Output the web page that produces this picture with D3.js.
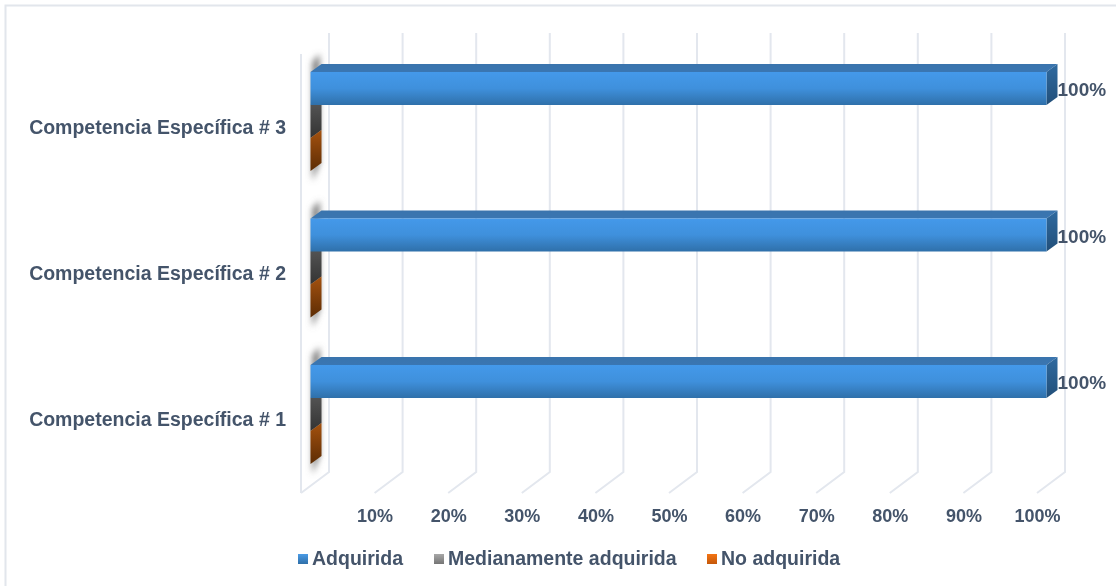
<!DOCTYPE html>
<html><head><meta charset="utf-8">
<script src="https://cdn.jsdelivr.net/npm/d3@7"></script>
<style>
html,body{margin:0;padding:0;background:#fff}
svg{display:block;filter:blur(0.4px)}
text{font-family:"Liberation Sans",Arial,sans-serif;font-weight:700;fill:#44546a}
</style></head><body><div id="chart"></div>
<script>
const categories = ["Competencia Específica # 3","Competencia Específica # 2","Competencia Específica # 1"];
const seriesNames = ["Adquirida","Medianamente adquirida","No adquirida"];
const adquirida = [1,1,1];
const medianamente = [0,0,0];
const noAdquirida = [0,0,0];
const seriesValues = [adquirida,medianamente,noAdquirida];
const tickValues = [0.1,0.2,0.3,0.4,0.5,0.6,0.7,0.8,0.9,1];

const W=1116,H=586;
const svg=d3.select("#chart").append("svg").attr("width",W).attr("height",H);
const defs=svg.append("defs");
function grad(id,stops){
  const g=defs.append("linearGradient").attr("id",id).attr("x1",0).attr("y1",0).attr("x2",0).attr("y2",1);
  stops.forEach((c,i)=>g.append("stop").attr("offset",i/(stops.length-1)).attr("stop-color",c));
}
grad("blue",["#4499ea","#3f90dc","#2f70aa"]);
grad("blueTop",["#3a74ad","#3a76b2"]);
grad("blueSide",["#2f6aa0","#224f79"]);
grad("gray",["#5a5a5a","#333333"]);
grad("orange",["#a5520f","#5c2c04"]);
grad("lgBlue",["#4a9be6","#2f6fa8"]);
grad("lgGray",["#a8a8a8","#757575"]);
grad("lgOrange",["#f47414","#c4580a"]);
defs.append("filter").attr("id","sh").attr("x","-100%").attr("y","-20%").attr("width","300%").attr("height","140%")
  .append("feGaussianBlur").attr("stdDeviation",3);

// frame
svg.append("path").attr("d",`M5.5,${H}V5.5H${W}`).attr("fill","none").attr("stroke","#e2e6ec").attr("stroke-width",2);

const depth={dx:28,dy:-21}, barDepth={dx:11,dy:-8,off:9.5};
const grid=d3.scaleLinear().domain([0,1]).range([301,1037]);
const floorY=493, wallTop=54;
const x=v=>grid(v)+barDepth.off;
const yBand=d3.scaleBand().domain(categories).range([53.5,493]).paddingInner(0).paddingOuter(0);
const barH=33;
const groupTop=c=>yBand(c)+18.5;

// gridlines
const gl=svg.append("g").attr("fill","none").attr("stroke","#e3e7ee").attr("stroke-width",2);
gl.append("line").attr("x1",grid(0)).attr("x2",grid(0)).attr("y1",wallTop).attr("y2",floorY);
[0].concat(tickValues).forEach(t=>{
  gl.append("path").attr("d",`M${grid(t)},${floorY}L${grid(t)+depth.dx},${floorY+depth.dy}V${wallTop+depth.dy}`);
});

// shadows of zero-width bars
const bars=svg.append("g");
categories.forEach((c,ci)=>{
  const t=groupTop(c), x0=x(0);
  bars.append("polygon").attr("filter","url(#sh)").attr("fill","#777")
    .attr("points",[[x0+2,t-10],[x0+barDepth.dx-2,t-18],[x0+barDepth.dx-2,t+barH*3-8],[x0+2,t+barH*3+10]].join(" "));
  seriesNames.forEach((s,si)=>{
    const v=seriesValues[si][ci], y0=t+si*barH, y1=y0+barH;
    const fill=["blue","gray","orange"][si];
    if(v===0){
      bars.append("polygon").attr("fill",`url(#${fill})`)
        .attr("points",[[x0,y0],[x0+barDepth.dx,y0+barDepth.dy],[x0+barDepth.dx,y1+barDepth.dy],[x0,y1]].join(" "));
    }
  });
  seriesNames.forEach((s,si)=>{
    const v=seriesValues[si][ci], y0=t+si*barH, y1=y0+barH, xe=x(v);
    if(v>0){
      bars.append("polygon").attr("fill","url(#blueTop)")
        .attr("points",[[x0,y0],[x0+barDepth.dx,y0+barDepth.dy],[xe+barDepth.dx,y0+barDepth.dy],[xe,y0]].join(" "));
      bars.append("polygon").attr("fill","url(#blueSide)")
        .attr("points",[[xe,y0],[xe+barDepth.dx,y0+barDepth.dy],[xe+barDepth.dx,y1+barDepth.dy],[xe,y1]].join(" "));
      bars.append("rect").attr("x",x0).attr("y",y0).attr("width",xe-x0).attr("height",barH).attr("fill","url(#blue)");
      svg.append("text").attr("x",xe+barDepth.dx).attr("y",y0+barH/2+7.5).attr("font-size",19)
        .text(d3.format(".0%")(v));
    }
  });
});

// axes
const xAxis=d3.axisBottom(grid).tickValues(tickValues).tickFormat(d3.format(".0%")).tickSize(0).tickPadding(0);
const gx=svg.append("g").attr("transform","translate(0,509.5)").call(xAxis);
gx.select(".domain").remove();
gx.selectAll("text").attr("font-size",18).attr("dy",".71em").attr("y",0);
const yLab=d3.scalePoint().domain(categories).range([127,419]);
const yAxis=d3.axisLeft(yLab).tickSize(0).tickPadding(0);
const gy=svg.append("g").attr("transform","translate(286,0)").call(yAxis);
gy.select(".domain").remove();
gy.selectAll("text").attr("font-size",19.5).attr("dy",".35em");

// legend
const legendX=[298,434,707];
const lg=svg.append("g");
seriesNames.forEach((s,i)=>{
  lg.append("rect").attr("x",legendX[i]).attr("y",554).attr("width",10).attr("height",10)
    .attr("fill",`url(#${["lgBlue","lgGray","lgOrange"][i]})`);
  lg.append("text").attr("x",legendX[i]+14).attr("y",565).attr("font-size",19.5).text(s);
});
</script></body></html>
